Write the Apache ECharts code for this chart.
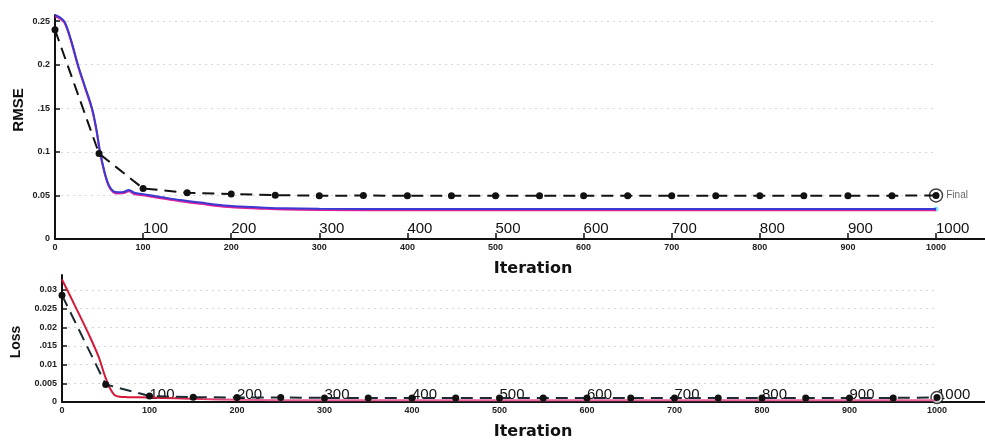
<!DOCTYPE html>
<html>
<head>
<meta charset="utf-8">
<script src="https://cdn.jsdelivr.net/npm/echarts@6/dist/echarts.min.js"></script>
<style>
  html, body { margin: 0; padding: 0; background: #fff; }
  #chart { width: 985px; height: 442px; }
</style>
</head>
<body>
<div id="chart"></div>
<script>
// ---- RMSE panel ----
const rmseIter  = [0, 6, 11, 18, 26, 34, 42, 47, 51, 56, 61, 66, 72, 78, 84, 90, 100, 120, 142, 165, 187, 210, 229, 260, 300, 400, 500, 600, 700, 800, 900, 1000];
const rmseCurve = [0.257, 0.254, 0.249, 0.229, 0.200, 0.175, 0.150, 0.126, 0.101, 0.078, 0.062, 0.055, 0.0535, 0.054, 0.0562, 0.0530, 0.0515, 0.0482, 0.0447, 0.0418, 0.0390, 0.0372, 0.0364, 0.0352, 0.0346, 0.0344, 0.0344, 0.0344, 0.0344, 0.0344, 0.0344, 0.0344];
const checkIter = [0, 50, 100, 150, 200, 250, 300, 350, 400, 450, 500, 550, 600, 650, 700, 750, 800, 850, 900, 950, 1000];
const rmseCheck = [0.240, 0.098, 0.058, 0.053, 0.0515, 0.0503, 0.0497, 0.0498, 0.0497, 0.0497, 0.0497, 0.0497, 0.0497, 0.0497, 0.0497, 0.0497, 0.0497, 0.0497, 0.0497, 0.0497, 0.0500];
const rmseTicks = [0, 0.05, 0.1, 0.15, 0.2, 0.25];
const rmseTickLabels = ['0', '0.05', '0.1', '.15', '0.2', '0.25'];

// ---- Loss panel ----
const lossIter  = [0, 16, 32, 42, 49, 55, 60, 66, 75, 100, 130, 160, 200, 250, 300, 400, 500, 600, 700, 800, 900, 1000];
const lossCurve = [0.0328, 0.0252, 0.0174, 0.0120, 0.0070, 0.0036, 0.0019, 0.0014, 0.0013, 0.0012, 0.0010, 0.0008, 0.0006, 0.0005, 0.0005, 0.0005, 0.0005, 0.0005, 0.0005, 0.0005, 0.0005, 0.0005];
const lossCheck = [0.0286, 0.0047, 0.0016, 0.0013, 0.0012, 0.0012, 0.0011, 0.0011, 0.0011, 0.0011, 0.0011, 0.0011, 0.0011, 0.0011, 0.0011, 0.0011, 0.0011, 0.0011, 0.0011, 0.0011, 0.0012];
const lossTicks = [0, 0.005, 0.01, 0.015, 0.02, 0.025, 0.03];
const lossTickLabels = ['0', '0.005', '0.01', '.015', '0.02', '0.025', '0.03'];

// ---- shared x ticks ----
const iterTicks = [0, 100, 200, 300, 400, 500, 600, 700, 800, 900, 1000];
const iterInnerTicks = [100, 200, 300, 400, 500, 600, 700, 800, 900, 1000];
const finalLabel = 'Final';
const xTitle = 'Iteration';

const FONT = '"Liberation Sans", Arial, sans-serif';
const chart = echarts.init(document.getElementById('chart'), null, { renderer: 'canvas' });

const pairs = (xs, ys) => xs.map((x, i) => [x, ys[i]]);
const lookup = (ticks, labels) => v => {
  const i = ticks.findIndex(t => Math.abs(t - v) < 1e-9);
  return i >= 0 ? labels[i] : '';
};
const plain = v => String(v);
const gridLines = (ticks, xEnd) => ticks.filter(t => t > 0).map(t => [{ coord: [0, t] }, { coord: [xEnd, t] }]);

function mainX(gridIndex, max) {
  return {
    type: 'value', gridIndex, min: 0, max, position: 'bottom',
    axisLine: { show: true, onZero: false, lineStyle: { color: '#111', width: 2 } },
    axisTick: { show: false },
    splitLine: { show: false },
    axisLabel: {
      customValues: iterTicks, formatter: plain, margin: 4,
      fontSize: 9, fontWeight: 'bold', fontFamily: FONT, color: '#222'
    }
  };
}
function innerX(gridIndex, max, margin, size, ticks) {
  return {
    type: 'value', gridIndex, min: 0, max, position: 'bottom',
    axisLine: { show: false },
    axisTick: { show: ticks, inside: true, length: 6, customValues: iterInnerTicks, lineStyle: { color: '#111', width: 1.5 } },
    splitLine: { show: false },
    axisLabel: {
      inside: true, customValues: iterInnerTicks, formatter: plain, align: 'left', margin,
      fontSize: size, fontFamily: FONT, color: '#111'
    }
  };
}
function yAx(gridIndex, max, ticks, labels) {
  return {
    type: 'value', gridIndex, min: 0, max,
    axisLine: { show: true, onZero: false, lineStyle: { color: '#111', width: 2 } },
    axisTick: { show: true, inside: true, length: 5, customValues: ticks, lineStyle: { color: '#111', width: 1.5 } },
    splitLine: { show: false },
    axisLabel: {
      customValues: ticks, formatter: lookup(ticks, labels), margin: 5,
      fontSize: 9, fontWeight: 'bold', fontFamily: FONT, color: '#222'
    }
  };
}
const guideStyle = { color: '#d6d6d6', type: [2, 4], width: 1 };
const dotStyle = { color: '#111', borderWidth: 0 };

const option = {
  animation: false,
  backgroundColor: '#fff',
  grid: [
    { left: 55, top: 15, right: 0, height: 224 },
    { left: 62, top: 275, right: 0, height: 127 }
  ],
  xAxis: [
    mainX(0, 1055.6),
    innerX(0, 1055.6, 3, 15, true),
    mainX(1, 1054.9),
    innerX(1, 1054.9, 0, 15, false)
  ],
  yAxis: [
    yAx(0, 0.257, rmseTicks, rmseTickLabels),
    yAx(1, 0.034, lossTicks, lossTickLabels)
  ],
  series: [
    // dotted horizontal guides, kept beneath the data
    {
      type: 'line', xAxisIndex: 0, yAxisIndex: 0, data: [], silent: true, z: 0,
      markLine: { silent: true, z: 0, symbol: ['none', 'none'], label: { show: false },
        lineStyle: guideStyle, data: gridLines(rmseTicks, 1000) }
    },
    {
      type: 'line', xAxisIndex: 2, yAxisIndex: 1, data: [], silent: true, z: 0,
      markLine: { silent: true, z: 0, symbol: ['none', 'none'], label: { show: false },
        lineStyle: guideStyle, data: gridLines(lossTicks, 1000) }
    },
    // RMSE curve
    {
      type: 'line', xAxisIndex: 0, yAxisIndex: 0, data: pairs(rmseIter, rmseCurve),
      showSymbol: false, smooth: 0.35,
      lineStyle: { color: '#3a3ad2', width: 2, shadowColor: '#e0209a', shadowOffsetY: 1.2, shadowBlur: 0 }
    },
    {
      type: 'scatter', xAxisIndex: 0, yAxisIndex: 0,
      data: [[rmseIter[rmseIter.length - 1], rmseCurve[rmseCurve.length - 1]]],
      symbolSize: 5, itemStyle: { color: '#62d6f6' }
    },
    // RMSE final ring
    {
      type: 'scatter', xAxisIndex: 0, yAxisIndex: 0,
      data: [[checkIter[checkIter.length - 1], rmseCheck[rmseCheck.length - 1]]],
      symbolSize: 13, itemStyle: { color: '#fff', borderColor: '#111', borderWidth: 1.5 },
      label: { show: true, position: 'right', distance: 3, formatter: finalLabel, fontSize: 10, fontFamily: FONT, color: '#444' }
    },
    // RMSE checkpoints
    {
      type: 'line', xAxisIndex: 0, yAxisIndex: 0, data: pairs(checkIter, rmseCheck),
      symbol: 'circle', symbolSize: 7, showAllSymbol: true, z: 3,
      itemStyle: dotStyle,
      lineStyle: { color: '#111', width: 2, type: [12, 7] }
    },
    // Loss curve
    {
      type: 'line', xAxisIndex: 2, yAxisIndex: 1, data: pairs(lossIter, lossCurve),
      showSymbol: false, smooth: 0.3,
      lineStyle: {
        width: 2,
        color: new echarts.graphic.LinearGradient(0, 0, 1, 0, [
          { offset: 0, color: '#d41838' },
          { offset: 0.12, color: '#d41838' },
          { offset: 0.22, color: '#e8609a' },
          { offset: 1, color: '#e8609a' }
        ])
      }
    },
    // Loss final ring
    {
      type: 'scatter', xAxisIndex: 2, yAxisIndex: 1,
      data: [[checkIter[checkIter.length - 1], lossCheck[lossCheck.length - 1]]],
      symbolSize: 12, itemStyle: { color: '#fff', borderColor: '#111', borderWidth: 1.5 }
    },
    // Loss checkpoints
    {
      type: 'line', xAxisIndex: 2, yAxisIndex: 1, data: pairs(checkIter, lossCheck),
      symbol: 'circle', symbolSize: 7, showAllSymbol: true, z: 3,
      itemStyle: dotStyle,
      lineStyle: { color: '#1c2c34', width: 2, type: [12, 7] }
    }
  ],
  graphic: [
    { type: 'text', x: 19, y: 110, rotation: Math.PI / 2,
      style: { text: 'RMSE', font: 'bold 15px ' + FONT, fill: '#111', align: 'center', verticalAlign: 'middle' } },
    { type: 'text', x: 16, y: 342, rotation: Math.PI / 2,
      style: { text: 'Loss', font: 'bold 14px ' + FONT, fill: '#111', align: 'center', verticalAlign: 'middle' } },
    { type: 'text', x: 533, y: 269,
      style: { text: xTitle, font: 'bold 16px "DejaVu Sans", sans-serif', fill: '#111', align: 'center', verticalAlign: 'middle' } },
    { type: 'text', x: 533, y: 432,
      style: { text: xTitle, font: 'bold 16px "DejaVu Sans", sans-serif', fill: '#111', align: 'center', verticalAlign: 'middle' } }
  ]
};
chart.setOption(option);
</script>
</body>
</html>
